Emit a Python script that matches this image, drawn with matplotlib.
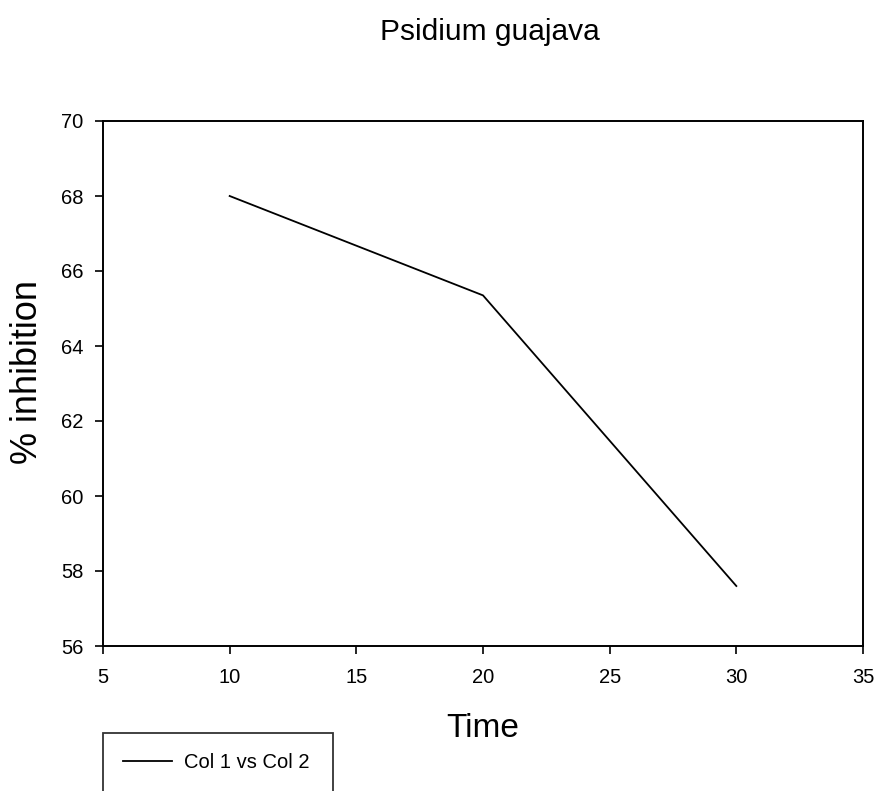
import numpy as np
import matplotlib
matplotlib.use('Agg')
import matplotlib.pyplot as plt

# data
time = [10, 20, 30]
inhibition = [68.0, 65.35, 57.6]
xticks = [5, 10, 15, 20, 25, 30, 35]
yticks = [56, 58, 60, 62, 64, 66, 68, 70]

plt.rcParams['font.family'] = ['Liberation Sans', 'DejaVu Sans']

fig = plt.figure(figsize=(8.81, 7.91), dpi=100)
W, H = 881, 791
left, right, top, bottom = 103, 863, 121, 646
ax = fig.add_axes([left / W, 1 - bottom / H, (right - left) / W, (bottom - top) / H])

line, = ax.plot(time, inhibition, color='black', linewidth=1.3, label='Col 1 vs Col 2')

ax.set_xlim(5, 35)
ax.set_ylim(56, 70)
ax.set_xticks(xticks)
ax.set_yticks(yticks)
ax.tick_params(direction='out', length=6, width=1.2, labelsize=14.5)
ax.tick_params(axis='x', pad=10)
ax.tick_params(axis='y', pad=8)
for s in ax.spines.values():
    s.set_linewidth(1.4)

ax.set_xlabel('Time', fontsize=24)
ax.set_ylabel('% inhibition', fontsize=26)
ax.xaxis.set_label_coords(0.5, (646 - 713) / 525)
ax.yaxis.set_label_coords((45 - 103) / 760, (646 - 372) / 525)
fig.text(490 / W, 1 - 32 / H, 'Psidium guajava', fontsize=21.5,
         ha='center', va='center')

# legend box sits below the axes and runs off the bottom of the figure
leg = fig.legend(handles=[line], loc='upper left',
                 bbox_to_anchor=(103 / W, 1 - 741 / H, (333 - 103) / W, 0.01),
                 mode='expand', fontsize=14.5, frameon=True, fancybox=False,
                 borderpad=1.0, handlelength=2.45, handletextpad=0.55,
                 borderaxespad=0)
leg.get_frame().set_edgecolor('black')
leg.get_frame().set_linewidth(1.3)

fig.savefig('out.png', dpi=100)
